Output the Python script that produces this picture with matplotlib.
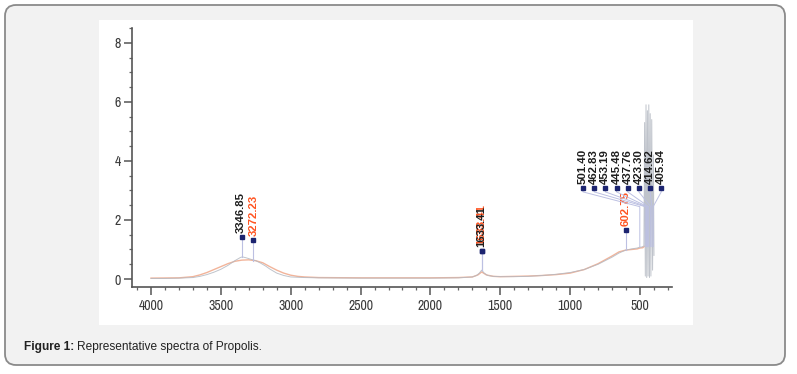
import matplotlib
matplotlib.use('Agg')
import matplotlib.pyplot as plt
from matplotlib import font_manager
from matplotlib.patches import FancyBboxPatch, Rectangle
from matplotlib.ticker import MultipleLocator

# ---- spectrum 1 (grey) ----
wn_grey = [4000, 3900, 3800, 3700, 3650, 3600, 3550, 3500, 3450, 3400, 3360, 3346,
           3320, 3280, 3250, 3220, 3180, 3150, 3100, 3050, 3000, 2900, 2800, 2500,
           2000, 1800, 1700, 1670, 1650, 1633, 1615, 1590, 1550, 1500, 1400, 1300,
           1200, 1100, 1000, 900, 800, 700, 650, 602, 560, 520, 501, 490, 480, 472,
           467, 462, 457, 452, 447, 442, 437, 432, 427, 422, 416, 410, 404, 400]
ab_grey = [0.02, 0.02, 0.03, 0.05, 0.09, 0.15, 0.23, 0.33, 0.46, 0.62, 0.73, 0.75,
           0.72, 0.66, 0.62, 0.55, 0.44, 0.34, 0.20, 0.12, 0.07, 0.05, 0.04, 0.03,
           0.03, 0.04, 0.07, 0.12, 0.2, 0.3, 0.2, 0.12, 0.09, 0.08, 0.08, 0.09,
           0.12, 0.16, 0.22, 0.32, 0.5, 0.74, 0.88, 0.98, 1.02, 1.05, 1.08, 1.08, 1.1, 1.12,
           5.3, 0.1, 5.9, 0.05, 5.7, 0.1, 5.9, 0.05, 5.6, 0.1, 5.4, 0.3, 4.2, 0.8]

# ---- spectrum 2 (orange) ----
wn_orange = [4000, 3800, 3700, 3650, 3600, 3550, 3500, 3450, 3400, 3350, 3300, 3250,
             3200, 3150, 3100, 3050, 3000, 2950, 2900, 2800, 2500, 2000, 1800, 1700,
             1660, 1633, 1600, 1550, 1500, 1400, 1300, 1200, 1100, 1000, 900, 800,
             700, 650, 602, 560, 520, 500, 480, 470]
ab_orange = [0.03, 0.04, 0.08, 0.14, 0.22, 0.32, 0.42, 0.52, 0.6, 0.64, 0.65, 0.62,
             0.55, 0.42, 0.3, 0.2, 0.13, 0.09, 0.07, 0.05, 0.04, 0.04, 0.05, 0.07,
             0.14, 0.24, 0.14, 0.09, 0.08, 0.09, 0.1, 0.12, 0.15, 0.2, 0.32, 0.52,
             0.78, 0.92, 0.98, 1.0, 1.02, 1.05, 1.06, 1.1]

# ---- peak annotations ----
peaks_single = [3346.85, 3272.23, 1633.41, 1633.41, 602.75]
peaks_single_lbl = ['3346.85', '3272.23', '1633.41', '1633.41', '602.75']
peaks_single_col = ['black', 'orange', 'orange', 'black', 'orange']
peaks_single_mark = [1.42, 1.32, 0.95, 0.95, 1.66]
peaks_single_base = [0.75, 0.62, 0.3, 0.3, 0.98]

peaks_group = [501.40, 462.83, 453.19, 445.48, 437.76, 423.30, 414.62, 405.94]
peaks_group_lbl = ['501.40', '462.83', '453.19', '445.48', '437.76', '423.30',
                   '414.62', '405.94']

X_TICKS = [4000, 3500, 3000, 2500, 2000, 1500, 1000, 500]
Y_TICKS = [0, 2, 4, 6, 8]

GREY = '#b4b9c2'
ORANGE_LN = '#f2b49a'
TXT = {'black': '#1e1e1e', 'orange': '#ff5522'}
NAVY = '#1c2470'
LEAD = '#bcc0e2'

# narrow font for tick labels, whichever is installed
_have = set(f.name for f in font_manager.fontManager.ttflist)
NARROW = next(f for f in ['Liberation Sans Narrow', 'Arial Narrow', 'Archivo Narrow',
                          'Roboto Condensed', 'Asap Condensed', 'DejaVu Sans']
              if f in _have)

W, H = 797, 374
fig = plt.figure(figsize=(W / 100, H / 100), dpi=100)
fig.patch.set_facecolor('white')

# ---- background panel (pixel coords) ----
bg = fig.add_axes([0, 0, 1, 1], zorder=0)
bg.set_xlim(0, W)
bg.set_ylim(H, 0)
bg.axis('off')
bg.add_patch(FancyBboxPatch((5, 5), 780, 360, boxstyle='round,pad=0,rounding_size=11',
                            facecolor='#f2f2f2', edgecolor='#8a8a8a', lw=1.3))
bg.add_patch(Rectangle((99, 20), 594, 305, facecolor='white', edgecolor='none'))
bg.text(24, 347, 'Figure 1:', fontsize=8.6, fontweight='bold', family='Liberation Sans',
        ha='left', va='center', color='#222222')
bg.text(77, 347, 'Representative spectra of Propolis.', fontsize=8.6,
        family='Liberation Sans', ha='left', va='center', color='#222222')

# ---- spectrum axes ----
ax = fig.add_axes([132 / W, 1 - 287 / H, 540 / W, 259 / H], zorder=2)
ax.patch.set_alpha(0)
ax.set_xlim(4136, 271)
ax.set_ylim(-0.27, 8.5)

ax.plot(wn_orange, ab_orange, color=ORANGE_LN, lw=1.0, zorder=2)
ax.plot(wn_grey, ab_grey, color=GREY, lw=0.7, alpha=0.85, zorder=3)

# single peaks: marker above the peak, label standing on it
nudge = {'3346.85': -0.8, '3272.23': 0.8}
for x, lbl, c, ym, yb in zip(peaks_single, peaks_single_lbl, peaks_single_col,
                             peaks_single_mark, peaks_single_base):
    ax.plot([x, x], [yb, ym], color=LEAD, lw=0.8, zorder=4)
    ax.plot(x, ym, 's', ms=3, color=NAVY, zorder=6)
    dy = 4.2 if (c == 'orange' and lbl == '1633.41') else 3
    ax.annotate(lbl, (x, ym), xytext=(nudge.get(lbl, 0), dy), textcoords='offset points',
                rotation=90, ha='center', va='bottom', fontsize=8.2, fontweight='bold',
                family='Liberation Sans', color=TXT[c])

# grouped labels, spread out with leader lines
for i, (x, lbl) in enumerate(zip(peaks_group, peaks_group_lbl)):
    lx = 908 - 80 * i
    ym = 3.08
    ax.plot([lx, lx, x, x], [ym, 2.95, 2.45, 1.1], color=LEAD, lw=0.7, zorder=4)
    ax.plot(lx, ym, 's', ms=3, color=NAVY, zorder=6)
    ax.annotate(lbl, (lx, ym), xytext=(0, 3), textcoords='offset points', rotation=90,
                ha='center', va='bottom', fontsize=8.2, fontweight='bold',
                family='Liberation Sans', color=TXT['black'], zorder=7)

# ---- axes styling ----
for s in ['top', 'right']:
    ax.spines[s].set_visible(False)
for s in ['left', 'bottom']:
    ax.spines[s].set_color('#555555')
    ax.spines[s].set_linewidth(1.2)
ax.set_xticks(X_TICKS)
ax.set_yticks(Y_TICKS)
ax.xaxis.set_minor_locator(MultipleLocator(100))
ax.yaxis.set_minor_locator(MultipleLocator(0.5))
ax.tick_params(which='major', length=6, width=1.1, color='#555555', labelcolor='#3a3a3a',
               labelsize=10)
ax.tick_params(which='minor', length=2.5, width=0.9, color='#666666')
ax.tick_params(axis='x', pad=3)
ax.tick_params(axis='y', pad=2)
for t in ax.get_xticklabels() + ax.get_yticklabels():
    t.set_family(NARROW)

fig.savefig('out.png', dpi=100, facecolor='white')
